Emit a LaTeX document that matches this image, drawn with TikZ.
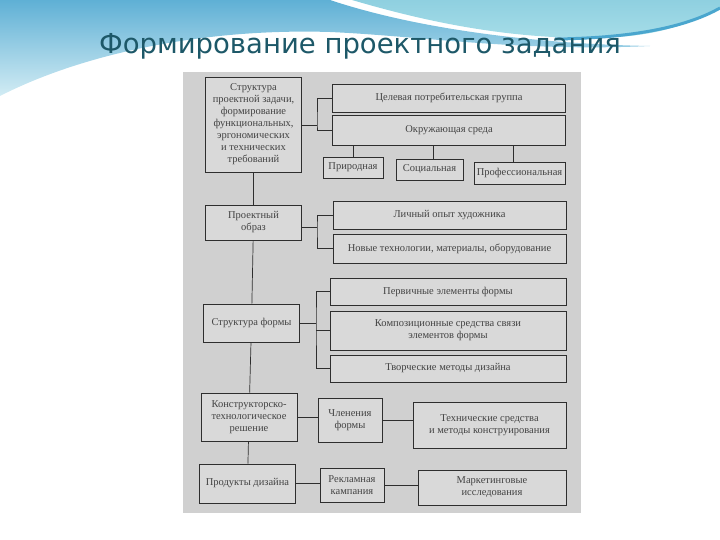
\documentclass[tikz,border=0pt]{standalone}
\usepackage{fontspec}
\setmainfont{Liberation Serif}
\newfontfamily\titlefont{DejaVu Sans}
\usepackage{tikz}
\usetikzlibrary{positioning,calc}
\definecolor{sky}{HTML}{5FB0D5}
\definecolor{skyl}{HTML}{D2ECF4}
\definecolor{cyanl}{HTML}{A6DDE8}
\definecolor{cyand}{HTML}{8FD0E0}
\definecolor{skyd}{HTML}{4AA6CE}
\definecolor{teal}{HTML}{1D5868}
\definecolor{scan}{HTML}{D0D0D0}
\definecolor{ink}{HTML}{2E2E2E}

\begin{document}
\begin{tikzpicture}[
   x=1pt,y=-1pt,
   font=\fontsize{10.5}{12}\selectfont,
   box/.style ={draw=ink,fill=scan!80!white,line width=0.7pt,text=ink!90,inner sep=1pt,align=center},
   main/.style={box,minimum width=96pt},
   wide/.style={box,minimum width=233pt},
   ln/.style  ={draw=ink,line width=0.7pt}
  ]
  \useasboundingbox (0,0) rectangle (720,540);
  % header
  \shade[top color=sky,bottom color=skyl] (0,0) -- (330,0) .. controls (420,30) and (540,44) .. (650,46)
     .. controls (520,52) and (420,36) .. (330,32) .. controls (200,28) and (80,55) .. (0,96) -- cycle;
  \shade[top color=cyand,bottom color=cyanl] (352,0) -- (720,0) -- (720,8) .. controls (680,30) and (640,38) .. (590,38)
     .. controls (500,38) and (420,20) .. (352,0) -- cycle;
  \draw[skyd,line width=3pt] (555,39) .. controls (640,38) and (690,25) .. (720,8);
  \node[font=\titlefont\fontsize{27.5}{32}\selectfont,text=teal] (title) at (360,46) {Формирование проектного задания};

  % scan
  \fill[scan] (183,72) rectangle (581,513);

  % main column
  \node[main,minimum height=95pt] (task) at (253.5,124.5) {Структура\\проектной задачи,\\формирование\\функциональных,\\эргономических\\и технических\\требований};
  \node[main,minimum height=35pt] (image) at (253.5,222.5) {Проектный\\образ};
  \node[main,minimum height=38pt] (form) at (251.5,323) {Структура формы};
  \node[main,minimum height=48pt] (constr) at (249,417) {Конструкторско-\\технологическое\\решение};
  \node[main,minimum height=39pt] (prod) at (247.5,483.5) {Продукты дизайна};

  % task group
  \node[wide,minimum height=28pt] (target) at (449,98) {Целевая потребительская группа};
  \node[wide,minimum height=30pt] (env) at (449,130) {Окружающая среда};
  \node[box,minimum width=60pt,minimum height=21pt] (nat) at (353,167.5) {Природная};
  \node[box,minimum width=67pt,minimum height=21pt] (soc) at (429.5,169.5) {Социальная};
  \node[box,minimum width=91pt,minimum height=22pt] (prof) at (519.5,173) {Профессиональная};

  % image group
  \node[wide,minimum height=28pt] (exp) at (449.5,215) {Личный опыт художника};
  \node[wide,minimum height=29pt] (tech) at (449.5,248.5) {Новые технологии, материалы, оборудование};

  % form group
  \node[wide,minimum width=236pt,minimum height=27pt] (prim) at (448,291.5) {Первичные элементы формы};
  \node[wide,minimum width=236pt,minimum height=39pt] (comp) at (448,330.5) {Композиционные средства связи\\элементов формы};
  \node[wide,minimum width=236pt,minimum height=27pt] (meth) at (448,368.5) {Творческие методы дизайна};

  % lower rows
  \node[box,minimum width=64pt,minimum height=44pt] (div) at (350,420) {Членения\\формы};
  \node[box,minimum width=153pt,minimum height=46pt] (tools) at (489.5,425) {Технические средства\\и методы конструирования};
  \node[box,minimum width=64pt,minimum height=34pt] (adv) at (352,485) {Рекламная\\кампания};
  \node[box,minimum width=148pt,minimum height=35pt] (mark) at (492,487.5) {Маркетинговые\\исследования};

  \coordinate (b1) at (317,125);
  \coordinate (b2) at (317,227);
  \coordinate (b3) at (316,323);

  \draw[ln] (task) -- (image);
  \draw[ln] (image) -- (form);
  \draw[ln] (form) -- (constr);
  \draw[ln] (constr) -- (prod);

  \draw[ln] (task.east |- b1) -- (b1);
  \draw[ln] (target.west) -| (b1) |- (env.west);
  \draw[ln] (nat.north) -- (nat.north |- env.south);
  \draw[ln] ([xshift=4pt]soc.north) -- ([xshift=4pt]soc.north |- env.south);
  \draw[ln] ([xshift=-6pt]prof.north) -- ([xshift=-6pt]prof.north |- env.south);

  \draw[ln] (image.east |- b2) -- (b2);
  \draw[ln] (exp.west) -| (b2) |- (tech.west);

  \draw[ln] (form.east) -- (b3);
  \draw[ln] (comp.west) -- (comp.west -| b3);
  \draw[ln] (prim.west) -| (b3) |- (meth.west);

  \draw[ln] (constr.east) -- (div.west |- constr.east);
  \draw[ln] (div.east) -- (tools.west |- div.east);
  \draw[ln] (prod.east) -- (adv.west |- prod.east);
  \draw[ln] (adv.east) -- (mark.west |- adv.east);
\end{tikzpicture}
\end{document}
